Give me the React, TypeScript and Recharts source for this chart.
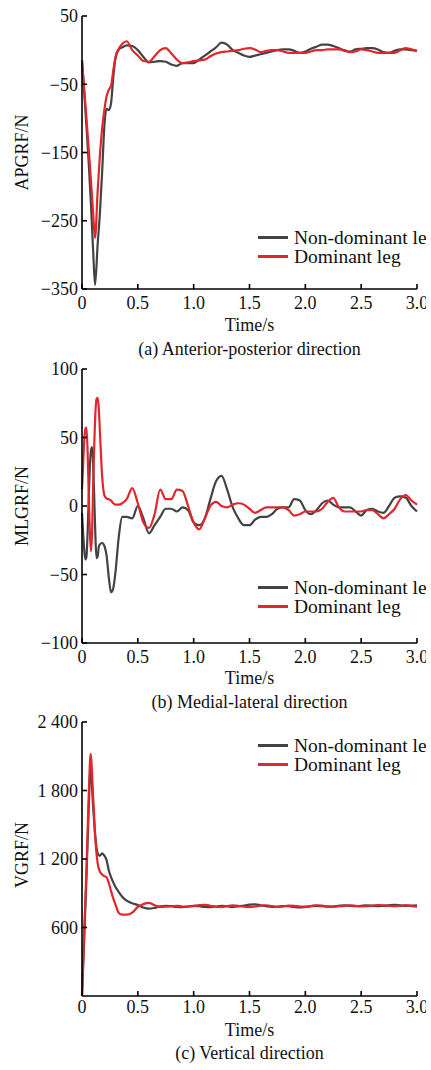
import { Label, Legend, Line, LineChart, XAxis, YAxis } from "recharts";

const FONT = '"Liberation Serif", "Times New Roman", serif';
const GREY = "#434343";
const RED = "#e2262c";

const seriesNames = ["Non-dominant leg", "Dominant leg"];

// shared time grid after 0.5 s
const lateTime = [
  0.55, 0.6, 0.65, 0.7, 0.75, 0.8, 0.85, 0.9, 0.95, 1.0,
  1.05, 1.1, 1.15, 1.2, 1.25, 1.3, 1.35, 1.4, 1.45, 1.5,
  1.55, 1.6, 1.65, 1.7, 1.75, 1.8, 1.85, 1.9, 1.95, 2.0,
  2.05, 2.1, 2.15, 2.2, 2.25, 2.3, 2.35, 2.4, 2.45, 2.5,
  2.55, 2.6, 2.65, 2.7, 2.75, 2.8, 2.85, 2.9, 2.95, 3.0,
];
const timeTicks = [0, 0.5, 1.0, 1.5, 2.0, 2.5, 3.0];

// (a) anterior-posterior
const apEarlyTime = [0, 0.02, 0.04, 0.06, 0.08, 0.1, 0.117, 0.14, 0.16, 0.18, 0.2, 0.22, 0.24, 0.26, 0.28, 0.3, 0.33, 0.36, 0.4, 0.45, 0.5];
const apNonDominant = [
  -15, -62, -112, -165, -225, -295, -344, -285, -240, -180, -112, -86, -88, -78, -40, -12, 1, 4, 7, 6, 0,
  -10, -18, -17, -16, -17, -21, -23, -19, -19, -19,
  -14, -8, -2, 4, 11, 8, 0, -4, -8, -10,
  -8, -6, -4, -2, 0, 1, 1, -1, -4, -2,
  2, 5, 8, 8, 6, 3, -1, -2, 1, 2,
  3, 3, 1, -3, -4, -1, 1, 1, 0, -1,
];
const apDominant = [
  -15, -58, -100, -145, -190, -240, -275, -207, -155, -115, -88, -68, -58, -52, -30, -10, 2, 9, 13, 0, -8,
  -16, -17, -9, 0, 3, -5, -14, -19, -18, -16,
  -15, -14, -9, -5, -3, -2, -1, 0, 2, 3,
  1, -3, -1, 0, 0, -2, -4, -4, -4, -4,
  -2, 0, 0, 1, 1, 1, 0, -3, -2, 1,
  0, -2, -4, -4, -4, -4, 0, 3, 1, -1,
];
const apTicks = [-350, -250, -150, -50, 50];

// (b) medial-lateral
const mlEarlyTime = [0, 0.01, 0.02, 0.03, 0.04, 0.05, 0.06, 0.07, 0.08, 0.09, 0.1, 0.11, 0.12, 0.13, 0.14, 0.15, 0.16, 0.18, 0.2, 0.22, 0.24, 0.26, 0.28, 0.3, 0.33, 0.36, 0.4, 0.45, 0.5];
const mlNonDominant = [
  -5, -20, -32, -39, -37, -20, 5, 28, 40, 43, 30, 5, -22, -38, -37, -30, -28, -27, -29, -36, -52, -63, -60, -48, -22, -8, -8, -9, 0,
  -9, -20, -14, -8, -2, -2, -4, -1, -3, -12,
  -14, -9, 5, 18, 22, 12, -1, -9, -14, -14,
  -10, -8, -8, -6, -2, -1, -1, 5, 4, -3,
  -6, -3, 2, 4, 1, -1, -1, -1, -4, -7,
  -3, -2, -4, -5, 0, 6, 7, 6, 0, -4,
];
const mlDominant = [
  12, 30, 48, 57, 57, 40, 10, -18, -33, -20, 15, 45, 68, 78, 79, 72, 55, 22, 8, 5.5, 5, 4, 2, 1, 1, 2, 5, 13, 2,
  -12, -16, -6, 12, 5, 5, 12, 11, 0, -12,
  -17, -9, 0, 3, 0, -1, 1, 2, 1, -2,
  -5, -3, -1, -1, -1, -1, -3, -7, -6, -4,
  -4, -4, -2, 3, 6, -1, -4, -4, -4, -4,
  -3, -3, -6, -9, -6, -2, 5, 8, 4, 1,
];
const mlTicks = [-100, -50, 0, 50, 100];

// (c) vertical
const vEarlyTime = [0, 0.02, 0.04, 0.06, 0.077, 0.1, 0.12, 0.14, 0.16, 0.18, 0.2, 0.22, 0.24, 0.26, 0.28, 0.3, 0.33, 0.36, 0.4, 0.45, 0.5];
const vNonDominant = [
  0, 500, 1040, 1640, 1997, 1650, 1390, 1250, 1228, 1250, 1230, 1190, 1100, 1042, 995, 955, 910, 870, 835, 812, 797,
  775, 765, 772, 785, 790, 786, 780, 778, 784, 790,
  786, 780, 778, 784, 790, 786, 780, 784, 792, 800,
  803, 795, 786, 780, 782, 788, 786, 780, 776, 780,
  786, 790, 786, 782, 784, 790, 794, 790, 786, 790,
  794, 790, 786, 790, 795, 798, 794, 790, 792, 795,
];
const vDominant = [
  0, 578, 1110, 1743, 2120, 1743, 1367, 1165, 1090, 1065, 1050, 1040, 990, 920, 855, 800, 727, 712, 712, 730, 780,
  805, 815, 795, 780, 782, 786, 790, 784, 782, 788,
  796, 798, 790, 782, 780, 788, 794, 790, 782, 778,
  784, 792, 795, 788, 780, 785, 792, 790, 784, 782,
  788, 795, 792, 785, 782, 786, 790, 795, 790, 784,
  786, 792, 797, 795, 790, 786, 790, 796, 788, 782,
];
const vTicks = [600, 1200, 1800, 2400];

const toRows = (early: number[], nonDom: number[], dom: number[]) =>
  [...early, ...lateTime].map((t, i) => ({ t, nonDominant: nonDom[i], dominant: dom[i] }));

const minus = (v: number) => String(v).replace("-", "\u2212");
const spaced = (v: number) =>
  v >= 1000 ? `${Math.floor(v / 1000)} ${String(v % 1000).padStart(3, "0")}` : String(v);

const renderLegend = (props: any) => {
  const items = [...props.payload].sort(
    (a: any, b: any) => seriesNames.indexOf(a.value) - seriesNames.indexOf(b.value)
  );
  return (
    <div style={{ fontFamily: FONT, fontSize: 19.5, color: "#111" }}>
      {items.map((entry: any) => (
        <div
          key={entry.value}
          style={{ display: "flex", alignItems: "center", height: 19, whiteSpace: "nowrap" }}
        >
          <span style={{ display: "inline-block", width: 30, height: 2.5, background: entry.color, marginRight: 6 }} />
          {entry.value}
        </div>
      ))}
    </div>
  );
};

type PanelProps = {
  top: number;
  data: { t: number; nonDominant: number; dominant: number }[];
  domain: [number, number];
  ticks: number[];
  format: (v: number) => string;
  yLabel: string;
  yLabelDy: number;
  caption: string;
  margin: { top: number; bottom: number };
  tickGap: number;
  timeOffset: number;
  captionOffset: number;
  legendTop: number;
};

const Panel = (p: PanelProps) => (
  <div style={{ position: "absolute", left: 0, top: p.top }}>
    <LineChart
      width={500}
      height={375}
      data={p.data}
      margin={{ top: p.margin.top, right: 83, left: 0, bottom: p.margin.bottom }}
    >
      <XAxis
        dataKey="t"
        type="number"
        domain={[0, 3]}
        ticks={timeTicks}
        tickFormatter={(v: number) => (v === 0 ? "0" : v.toFixed(1))}
        height={75}
        stroke="#000"
        strokeWidth={1.6}
        tickSize={-5}
        tickMargin={p.tickGap}
        tick={{ fontFamily: FONT, fontSize: 18, fill: "#111" }}
        interval={0}
      >
        <Label value="Time/s" position="insideBottom" offset={p.timeOffset} fontFamily={FONT} fontSize={18} fill="#111" />
        <Label value={p.caption} position="insideBottom" offset={p.captionOffset} fontFamily={FONT} fontSize={18} fill="#111" />
      </XAxis>
      <YAxis
        width={82}
        domain={p.domain}
        ticks={p.ticks}
        tickFormatter={p.format}
        stroke="#000"
        strokeWidth={1.6}
        tickSize={-5}
        tickMargin={9}
        tick={{ fontFamily: FONT, fontSize: 18, fill: "#111" }}
        interval={0}
        allowDataOverflow
      >
        <Label
          value={p.yLabel}
          position="center"
          angle={-90}
          dx={-19}
          dy={p.yLabelDy}
          fontFamily={FONT}
          fontSize={18}
          fill="#111"
        />
      </YAxis>
      <Line
        type="monotone"
        dataKey="nonDominant"
        name={seriesNames[0]}
        stroke={GREY}
        strokeWidth={2.2}
        dot={false}
        isAnimationActive={false}
      />
      <Line
        type="monotone"
        dataKey="dominant"
        name={seriesNames[1]}
        stroke={RED}
        strokeWidth={2.2}
        dot={false}
        isAnimationActive={false}
      />
      <Legend
        layout="vertical"
        align="center"
        verticalAlign="middle"
        content={renderLegend}
        wrapperStyle={{ left: 258, top: p.legendTop, width: 240 }}
      />
    </LineChart>
  </div>
);

export default function App() {
  return (
    <div
      style={{
        position: "absolute",
        left: 0,
        top: 0,
        width: 426,
        height: 1070,
        overflow: "hidden",
        background: "#fff",
      }}
    >
      <Panel
        top={0}
        data={toRows(apEarlyTime, apNonDominant, apDominant)}
        domain={[-350, 50]}
        ticks={apTicks}
        format={minus}
        yLabel="APGRF/N"
        yLabelDy={0}
        caption="(a) Anterior-posterior direction"
        margin={{ top: 16, bottom: 11 }}
        tickGap={12}
        timeOffset={33}
        captionOffset={9}
        legendTop={228}
      />
      <Panel
        top={350}
        data={toRows(mlEarlyTime, mlNonDominant, mlDominant)}
        domain={[-100, 100]}
        ticks={mlTicks}
        format={minus}
        yLabel="MLGRF/N"
        yLabelDy={0}
        caption="(b) Medial-lateral direction"
        margin={{ top: 19, bottom: 7 }}
        tickGap={12}
        timeOffset={34}
        captionOffset={10}
        legendTop={228}
      />
      <Panel
        top={700}
        data={toRows(vEarlyTime, vNonDominant, vDominant)}
        domain={[0, 2400]}
        ticks={vTicks}
        format={spaced}
        yLabel="VGRF/N"
        yLabelDy={-4}
        caption="(c) Vertical direction"
        margin={{ top: 22, bottom: 4 }}
        tickGap={9}
        timeOffset={35}
        captionOffset={12}
        legendTop={36}
      />
    </div>
  );
}
